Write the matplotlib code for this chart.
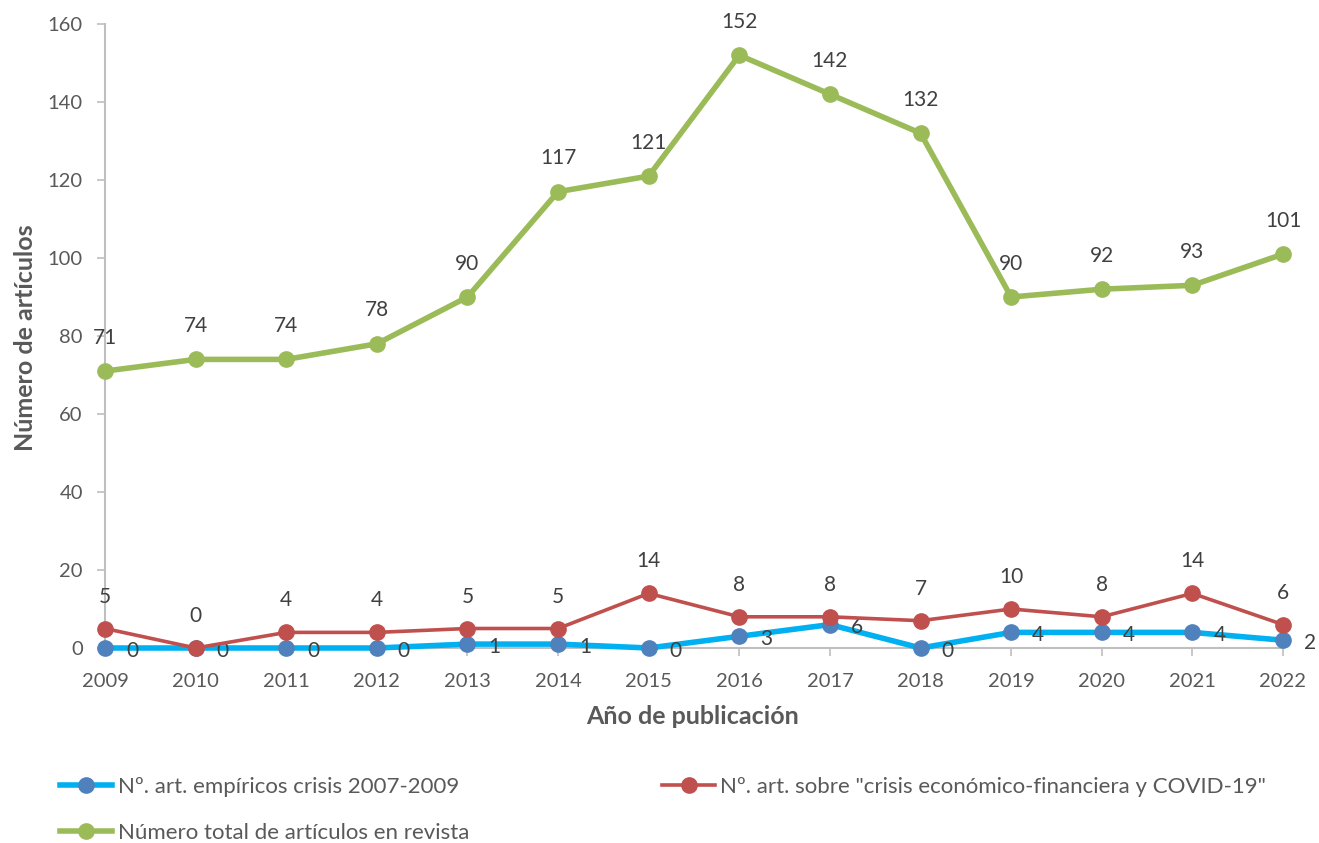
import matplotlib
matplotlib.use("Agg")
import matplotlib.pyplot as plt
from matplotlib.lines import Line2D

plt.rcParams['font.family'] = ['Lato', 'DejaVu Sans']

years = [2009, 2010, 2011, 2012, 2013, 2014, 2015, 2016, 2017, 2018, 2019, 2020, 2021, 2022]
empiricos = [0, 0, 0, 0, 1, 1, 0, 3, 6, 0, 4, 4, 4, 2]
covid = [5, 0, 4, 4, 5, 5, 14, 8, 8, 7, 10, 8, 14, 6]
total = [71, 74, 74, 78, 90, 117, 121, 152, 142, 132, 90, 92, 93, 101]

lab_emp = 'Nº. art. empíricos crisis 2007-2009'
lab_cov = 'Nº. art. sobre "crisis económico-financiera y COVID-19"'
lab_tot = 'Número total de artículos en revista'

W, H = 1319, 843
fig = plt.figure(figsize=(W / 100, H / 100), dpi=100)
ax = fig.add_axes([105 / W, 1 - 648 / H, (1283 - 105) / W, (648 - 24) / H])

c_emp_line, c_emp_mk = '#00B0F0', '#4F81BD'
c_cov = '#C0504D'
c_tot = '#9BBB59'
txtc = '#404040'
axc = '#BFBFBF'
lblc = '#595959'

ax.plot(years, empiricos, color=c_emp_line, lw=4, marker='o', ms=11,
        mfc=c_emp_mk, mec=c_emp_mk, zorder=3, clip_on=False)
ax.plot(years, covid, color=c_cov, lw=2.6, marker='o', ms=11,
        mfc=c_cov, mec=c_cov, zorder=4, clip_on=False)
ax.plot(years, total, color=c_tot, lw=4, marker='o', ms=11,
        mfc=c_tot, mec=c_tot, zorder=5, clip_on=False)

fs = 15
for x, v in zip(years, total):
    ax.annotate(str(v), (x, v), xytext=(0, 24), textcoords='offset points',
                ha='center', va='center', fontsize=fs, color=txtc, annotation_clip=False)
for x, v in zip(years, covid):
    ax.annotate(str(v), (x, v), xytext=(0, 23), textcoords='offset points',
                ha='center', va='center', fontsize=fs, color=txtc, annotation_clip=False)
for x, v in zip(years, empiricos):
    ax.annotate(str(v), (x, v), xytext=(19.5, -2), textcoords='offset points',
                ha='center', va='center', fontsize=fs, color=txtc, annotation_clip=False)

ax.set_xlim(2009, 2022)
ax.set_ylim(0, 160)
ax.set_yticks(range(0, 161, 20))
ax.set_xticks(years)
ax.set_xticklabels([str(y) for y in years])

for s in ['top', 'right']:
    ax.spines[s].set_visible(False)
for s in ['left', 'bottom']:
    ax.spines[s].set_color(axc)
    ax.spines[s].set_linewidth(1.5)
ax.tick_params(axis='both', colors=axc, labelcolor=lblc, labelsize=14.5,
               length=6, width=1.2)
ax.tick_params(axis='x', pad=12)
ax.tick_params(axis='y', pad=10)

ax.set_ylabel('Número de artículos', fontsize=18, fontweight='bold', color=lblc)
ax.set_xlabel('Año de publicación', fontsize=18, fontweight='bold', color=lblc)
ax.yaxis.set_label_coords(-0.0577, 0.498)
ax.xaxis.set_label_coords(0.499, -0.0913)

h_emp = Line2D([], [], color=c_emp_line, lw=4, marker='o', ms=11, mfc=c_emp_mk, mec=c_emp_mk)
h_cov = Line2D([], [], color=c_cov, lw=2.6, marker='o', ms=11, mfc=c_cov, mec=c_cov)
h_tot = Line2D([], [], color=c_tot, lw=4, marker='o', ms=11, mfc=c_tot, mec=c_tot)
leg = fig.legend([h_emp, h_tot, h_cov], [lab_emp, lab_tot, lab_cov], ncol=2,
                 loc='upper left', bbox_to_anchor=(60 / W, 1 - 777 / H),
                 frameon=False, fontsize=16, handlelength=2.35, handletextpad=0.25,
                 columnspacing=8.7, labelspacing=1.15, borderaxespad=0, borderpad=0)
for t in leg.get_texts():
    t.set_color(lblc)

fig.savefig('out.png', dpi=100)
